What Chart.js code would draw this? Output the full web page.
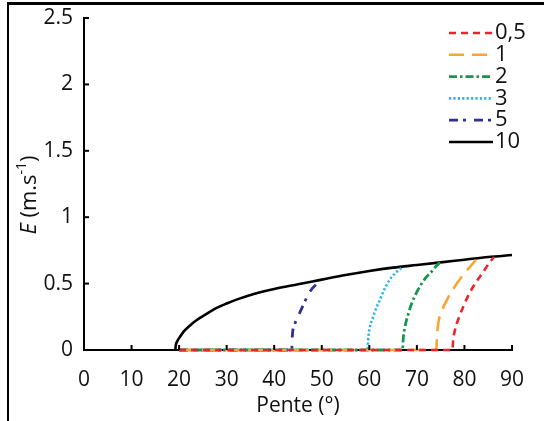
<!DOCTYPE html>
<html>
<head>
<meta charset="utf-8">
<script src="https://cdn.jsdelivr.net/npm/chart.js@4.4.1/dist/chart.umd.min.js"></script>
<style>
  html, body { margin: 0; padding: 0; background: #fff; }
  #wrap { width: 544px; height: 421px; position: relative; }
</style>
</head>
<body>
<div id="wrap"><canvas id="chart" width="544" height="421"></canvas></div>
<script>
// Pente (°) on x, E (m.s-1) on y ; one pair of arrays per curve
const seriesLabels = ["0,5", "1", "2", "3", "5", "10"];

const pente05 = [20, 77.5, 77.6, 78.0, 78.8, 79.8, 80.8, 81.9, 83.0, 84.0, 85.1, 86.2];
const e05     = [0, 0, 0.06, 0.15, 0.24, 0.33, 0.41, 0.48, 0.54, 0.59, 0.65, 0.70];

const pente1 = [20, 74.1, 74.2, 74.5, 75.2, 76.3, 77.3, 78.4, 79.4, 80.5, 81.5, 82.4];
const e1     = [0, 0, 0.08, 0.20, 0.29, 0.376, 0.44, 0.50, 0.55, 0.60, 0.64, 0.68];

const pente2 = [20, 67.0, 67.1, 67.5, 68.1, 68.9, 69.9, 71.0, 72.0, 73.1, 74.0, 74.9];
const e2     = [0, 0, 0.07, 0.175, 0.26, 0.35, 0.43, 0.50, 0.55, 0.59, 0.63, 0.66];

const pente3 = [20, 59.6, 59.8, 60.8, 61.4, 62.2, 63.2, 64.3, 65.5, 66.8];
const e3     = [0, 0, 0.10, 0.25, 0.31, 0.376, 0.46, 0.53, 0.58, 0.62];

const pente5 = [20, 43.7, 43.8, 44.2, 45.0, 46.0, 47.5, 49.3];
const e5     = [0, 0, 0.10, 0.18, 0.25, 0.33, 0.44, 0.51];

const pente10 = [19.2, 19.3, 19.6, 20.2, 21, 22.3, 23.5, 25, 27.5, 30, 32.5, 35, 40, 45, 50, 55, 60, 65, 70, 75, 80, 85, 90];
const e10     = [0, 0.035, 0.065, 0.10, 0.14, 0.185, 0.22, 0.255, 0.31, 0.35, 0.385, 0.415, 0.46, 0.495, 0.53, 0.565, 0.595, 0.62, 0.64, 0.66, 0.68, 0.70, 0.715];

const xTicks = [0, 10, 20, 30, 40, 50, 60, 70, 80, 90];
const yTicks = [0, 0.5, 1, 1.5, 2, 2.5];

const FONT = "'Open Sans', 'Noto Sans', sans-serif";

function pts(xs, ys) {
  return xs.map((x, i) => ({ x: x, y: ys[i] }));
}

const curves = [
  { xs: pente05, ys: e05, color: "#e8252b", dash: [7, 5], width: 2.6 },
  { xs: pente1, ys: e1, color: "#f6a732", dash: [15, 8], width: 2.6 },
  { xs: pente2, ys: e2, color: "#119a4b", dash: [8, 3, 2.5, 3], width: 2.8 },
  { xs: pente3, ys: e3, color: "#2cb5e4", dash: [2.2, 2.2], width: 2.6 },
  { xs: pente5, ys: e5, color: "#2e3192", dash: [9, 5, 3, 8], width: 2.8 },
  { xs: pente10, ys: e10, color: "#000000", dash: [], width: 2.6 },
];

const datasets = curves.map((c, i) => ({
  label: seriesLabels[i],
  data: pts(c.xs, c.ys),
  borderColor: c.color,
  borderWidth: c.width,
  borderDash: c.dash,
  borderCapStyle: "butt",
  pointRadius: 0,
  fill: false,
  cubicInterpolationMode: "monotone",
  clip: false,
}));

const decor = {
  id: "decor",
  afterDraw(chart) {
    const ctx = chart.ctx;
    const xs = chart.scales.x;
    const ys = chart.scales.y;
    ctx.save();

    // inward tick marks
    ctx.strokeStyle = "#000";
    ctx.lineWidth = 2;
    xTicks.slice(1).forEach(v => {
      const px = xs.getPixelForValue(v);
      ctx.beginPath();
      ctx.moveTo(px, ys.bottom);
      ctx.lineTo(px, ys.bottom - 5);
      ctx.stroke();
    });
    yTicks.slice(1).forEach(v => {
      const py = ys.getPixelForValue(v);
      ctx.beginPath();
      ctx.moveTo(xs.left, py);
      ctx.lineTo(xs.left + 5, py);
      ctx.stroke();
    });

    // outer frame (top and left)
    ctx.lineWidth = 3;
    ctx.beginPath();
    ctx.moveTo(7, 3.5);
    ctx.lineTo(544, 3.5);
    ctx.stroke();
    ctx.lineWidth = 2;
    ctx.beginPath();
    ctx.moveTo(8, 3);
    ctx.lineTo(8, 421);
    ctx.stroke();

    // y title : E (m.s-1)
    ctx.fillStyle = "#111";
    ctx.textBaseline = "middle";
    ctx.translate(30, 195);
    ctx.rotate(-Math.PI / 2);
    const parts = [
      { t: "E", f: "italic 22px " + FONT, dy: 0 },
      { t: " (m.s", f: "22px " + FONT, dy: 0 },
      { t: "-1", f: "14px " + FONT, dy: -8 },
      { t: ")", f: "22px " + FONT, dy: 0 },
    ];
    let total = 0;
    parts.forEach(p => { ctx.font = p.f; p.w = ctx.measureText(p.t).width; total += p.w; });
    let cx = -total / 2;
    parts.forEach(p => {
      ctx.font = p.f;
      ctx.textAlign = "left";
      ctx.fillText(p.t, cx, p.dy);
      cx += p.w;
    });
    ctx.restore();

    // legend, top right
    ctx.save();
    chart.data.datasets.forEach((ds, i) => {
      const ly = 33 + i * 21.8;
      ctx.strokeStyle = ds.borderColor;
      ctx.lineWidth = ds.borderWidth;
      ctx.setLineDash(ds.borderDash);
      ctx.beginPath();
      ctx.moveTo(449, ly);
      ctx.lineTo(493, ly);
      ctx.stroke();
      ctx.setLineDash([]);
      ctx.fillStyle = "#111";
      ctx.font = "22px " + FONT;
      ctx.textAlign = "left";
      ctx.textBaseline = "middle";
      ctx.fillText(ds.label, 495, ly);
    });
    ctx.restore();
  },
};

new Chart(document.getElementById("chart"), {
  type: "line",
  data: { datasets: datasets },
  plugins: [decor],
  options: {
    responsive: false,
    animation: false,
    layout: { padding: { top: 18, right: 32, left: 0, bottom: 0 } },
    plugins: { legend: { display: false }, tooltip: { enabled: false } },
    scales: {
      x: {
        type: "linear",
        min: 0,
        max: 90,
        afterBuildTicks: s => { s.ticks = xTicks.map(v => ({ value: v })); },
        afterFit: s => { s.height = 71; },
        grid: { display: false, drawTicks: false },
        border: { display: true, color: "#000", width: 2 },
        ticks: { color: "#111", font: { family: FONT, size: 21 }, padding: 17, maxRotation: 0 },
        title: { display: true, text: "Pente (°)", color: "#111", font: { family: FONT, size: 21 }, padding: { top: 0, bottom: 2 } },
      },
      y: {
        type: "linear",
        min: 0,
        max: 2.5,
        afterBuildTicks: s => { s.ticks = yTicks.map(v => ({ value: v })); },
        afterFit: s => { s.width = 84; s.paddingTop = 0; s.paddingBottom = 0; },
        grid: { display: false, drawTicks: false },
        border: { display: true, color: "#000", width: 2 },
        ticks: { color: "#111", font: { family: FONT, size: 21 }, padding: 11, callback: v => String(v) },
      },
    },
  },
});
</script>
</body>
</html>
